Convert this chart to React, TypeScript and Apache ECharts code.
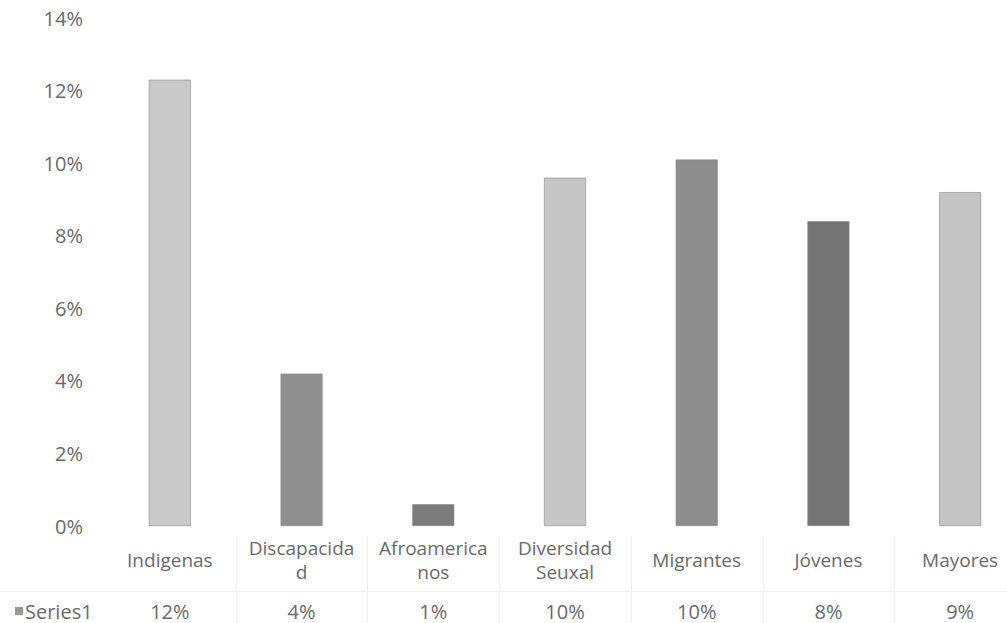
import React, { useEffect, useRef } from "react";
import * as echarts from "echarts";

const categories = [
  "Indigenas",
  "Discapacida\nd",
  "Afroamerica\nnos",
  "Diversidad\nSeuxal",
  "Migrantes",
  "Jóvenes",
  "Mayores",
];
const values = [12.3, 4.2, 0.6, 9.6, 10.1, 8.4, 9.2];
const tableLabels = ["12%", "4%", "1%", "10%", "10%", "8%", "9%"];
const barColors = ["#c9c9c9", "#8f8f8f", "#7c7c7c", "#c6c6c6", "#8d8d8d", "#747474", "#c4c4c4"];
const yTicks = { min: 0, max: 14, interval: 2 };
const seriesName = "Series1";

const FONT = "'Open Sans', Lato, sans-serif";
const TEXT = "#6a6a6a";

export default function App() {
  const ref = useRef<HTMLDivElement>(null);
  useEffect(() => {
    if (!ref.current) return;
    const chart = echarts.init(ref.current, null, { renderer: "svg" });
    const gridLeft = 104;
    const plotW = 922;
    const step = plotW / categories.length;
    const lines: any[] = [];
    for (let i = 1; i < categories.length; i++) {
      const x = Math.round(gridLeft + step * i) + 0.5;
      lines.push({
        type: "line",
        shape: { x1: x, y1: 536, x2: x, y2: 623 },
        style: { stroke: "#efefef", lineWidth: 1 },
        silent: true,
      });
    }
    lines.push({
      type: "line",
      shape: { x1: 0, y1: 591.5, x2: 1007, y2: 591.5 },
      style: { stroke: "#f2f2f2", lineWidth: 1 },
      silent: true,
    });
    chart.setOption({
      animation: false,
      backgroundColor: "#ffffff",
      textStyle: { fontFamily: FONT },
      grid: {
        left: gridLeft,
        width: plotW,
        top: 18,
        bottom: 97,
        containLabel: false,
        outerBoundsMode: "none",
      },
      legend: {
        data: [seriesName],
        left: 15,
        top: 601,
        padding: 0,
        icon: "rect",
        itemWidth: 8,
        itemHeight: 8,
        itemGap: 4,
        textStyle: {
          color: TEXT,
          fontSize: 20,
          lineHeight: 20,
          fontFamily: FONT,
          padding: [0, 0, 0, -3],
        },
      },
      xAxis: [
        {
          type: "category",
          data: categories,
          axisLine: { show: false },
          axisTick: { show: false },
          axisLabel: {
            color: TEXT,
            fontSize: 19,
            lineHeight: 24,
            margin: 34,
            verticalAlign: "middle",
            interval: 0,
            fontFamily: FONT,
          },
        },
        {
          type: "category",
          data: tableLabels,
          position: "bottom",
          axisLine: { show: false },
          axisTick: { show: false },
          axisLabel: {
            color: TEXT,
            fontSize: 20,
            margin: 85,
            verticalAlign: "middle",
            interval: 0,
            fontFamily: FONT,
          },
        },
      ],
      yAxis: {
        type: "value",
        min: yTicks.min,
        max: yTicks.max,
        interval: yTicks.interval,
        splitLine: { show: false },
        axisLine: { show: false },
        axisTick: { show: false },
        axisLabel: {
          formatter: "{value}%",
          color: TEXT,
          fontSize: 20,
          margin: 21,
          fontFamily: FONT,
        },
      },
      series: [
        {
          name: seriesName,
          type: "bar",
          xAxisIndex: 0,
          barWidth: 42,
          itemStyle: { color: "#9a9a9a" },
          data: values.map((v, i) => ({
            value: v,
            itemStyle: { color: barColors[i], borderColor: "#8a8a8a", borderWidth: 0.6 },
          })),
        },
      ],
      graphic: lines,
    });
    return () => chart.dispose();
  }, []);
  return (
    <div
      ref={ref}
      style={{ position: "fixed", left: 0, top: 0, width: 1007, height: 623, background: "#fff" }}
    />
  );
}
